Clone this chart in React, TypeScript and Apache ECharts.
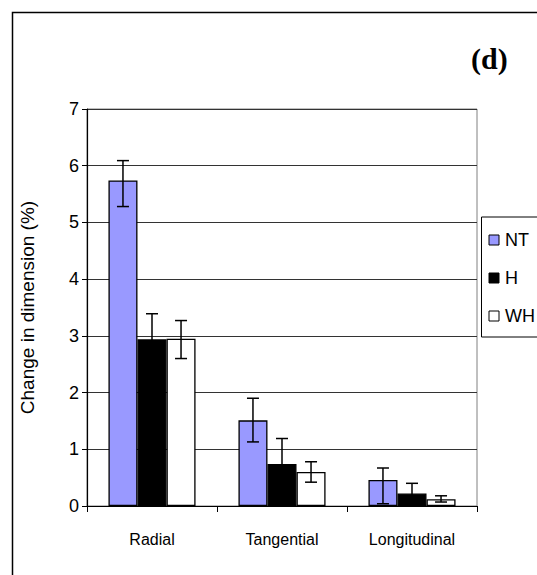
import React, { useEffect, useRef } from "react";
import * as echarts from "echarts";

const categories = ["Radial", "Tangential", "Longitudinal"];
const seriesNames = ["NT", "H", "WH"];
const ntValues = [5.74, 1.51, 0.46];
const hValues = [2.94, 0.74, 0.22];
const whValues = [2.95, 0.6, 0.12];
const ntLow = [5.28, 1.13, 0.04];
const ntHigh = [6.09, 1.9, 0.67];
const hLow = [2.49, 0.29, 0.04];
const hHigh = [3.39, 1.19, 0.4];
const whLow = [2.6, 0.42, 0.07];
const whHigh = [3.27, 0.78, 0.18];
const yTicks = [0, 1, 2, 3, 4, 5, 6, 7];

const colors = ["#9999ff", "#000000", "#ffffff"];
const GAP = 0.33;

export default function App() {
  const ref = useRef<HTMLDivElement>(null);
  useEffect(() => {
    const chart = echarts.init(ref.current!, null, { renderer: "svg" });
    const values = [ntValues, hValues, whValues];
    const lows = [ntLow, hLow, whLow];
    const highs = [ntHigh, hHigh, whHigh];

    const barSeries = seriesNames.map((name, i) => ({
      name,
      type: "bar",
      data: values[i],
      barGap: "0%",
      barCategoryGap: "33%",
      itemStyle: { color: colors[i], borderColor: "#000", borderWidth: 1.3 },
      z: 2,
    }));

    const errSeries = seriesNames.map((name, i) => ({
      name: name + " error",
      type: "custom",
      z: 5,
      data: categories.map((_, c) => [c, lows[i][c], highs[i][c]]),
      encode: { x: 0, y: [1, 2] },
      renderItem: (params: any, api: any) => {
        const c = api.value(0);
        const catW = api.size([1, 0])[0];
        const barW = (catW * (1 - GAP)) / 3;
        const off = (i - 1) * barW;
        const lo = api.coord([c, api.value(1)]);
        const hi = api.coord([c, api.value(2)]);
        const x = lo[0] + off;
        const cap = 6;
        const st = { stroke: "#000", lineWidth: 1.5 };
        return {
          type: "group",
          children: [
            { type: "line", shape: { x1: x, y1: lo[1], x2: x, y2: hi[1] }, style: st },
            { type: "line", shape: { x1: x - cap, y1: lo[1], x2: x + cap, y2: lo[1] }, style: st },
            { type: "line", shape: { x1: x - cap, y1: hi[1], x2: x + cap, y2: hi[1] }, style: st },
          ],
        };
      },
    }));

    chart.setOption({
      animation: false,
      backgroundColor: "#fff",
      textStyle: { fontFamily: "Arial, 'Liberation Sans', sans-serif" },
      grid: {
        left: 87,
        right: 537 - 477,
        top: 109,
        bottom: 575 - 506,
        show: true,
        borderColor: "#808080",
        borderWidth: 1,
        containLabel: false,
      },
      graphic: [
        {
          type: "rect",
          left: 10,
          top: 10,
          shape: { x: 0, y: 0, width: 600, height: 600 },
          style: { fill: "none", stroke: "#000", lineWidth: 1.5 },
          silent: true,
        },
        {
          type: "text",
          left: 471,
          top: 43,
          style: {
            text: "(d)",
            font: "bold 30px 'Liberation Serif', 'Times New Roman', serif",
            fill: "#000",
          },
        },
      ],
      legend: {
        orient: "vertical",
        left: 481.5,
        top: 217,
        data: seriesNames.map((n, i) => ({
          name: n,
          itemStyle: { color: colors[i], borderColor: "#000", borderWidth: 1 },
        })),
        icon: "rect",
        itemWidth: 10,
        itemHeight: 10,
        itemGap: 20,
        padding: [14, 40, 12, 7],
        borderColor: "#000",
        borderWidth: 1,
        backgroundColor: "#fff",
        textStyle: { fontSize: 18, color: "#000", fontFamily: "Arial, 'Liberation Sans', sans-serif", padding: [0, 0, 0, 1] },
        selectedMode: false,
      },
      xAxis: {
        type: "category",
        data: categories,
        axisLine: { lineStyle: { color: "#000", width: 1.2 } },
        axisTick: { show: true, length: 6, inside: false, lineStyle: { color: "#000" } },
        axisLabel: { color: "#000", fontSize: 16, margin: 25 },
      },
      yAxis: {
        type: "value",
        min: 0,
        max: 7,
        interval: 1,
        name: "Change in dimension (%)",
        nameLocation: "middle",
        nameGap: 50,
        nameTextStyle: { fontSize: 19, color: "#000" },
        axisLine: { show: true, lineStyle: { color: "#000", width: 1.2 } },
        axisTick: { show: true, length: 5, inside: false, lineStyle: { color: "#000" } },
        axisLabel: {
          color: "#000",
          fontSize: 18,
          margin: 8,
          formatter: (v: number) => (yTicks.includes(v) ? String(v) : ""),
        },
        splitLine: { show: true, lineStyle: { color: "#333", width: 1 } },
      },
      series: [...barSeries, ...errSeries],
    });
    return () => chart.dispose();
  }, []);
  return (
    <div
      ref={ref}
      style={{ position: "absolute", left: 0, top: 0, width: 537, height: 575, background: "#fff" }}
    />
  );
}
